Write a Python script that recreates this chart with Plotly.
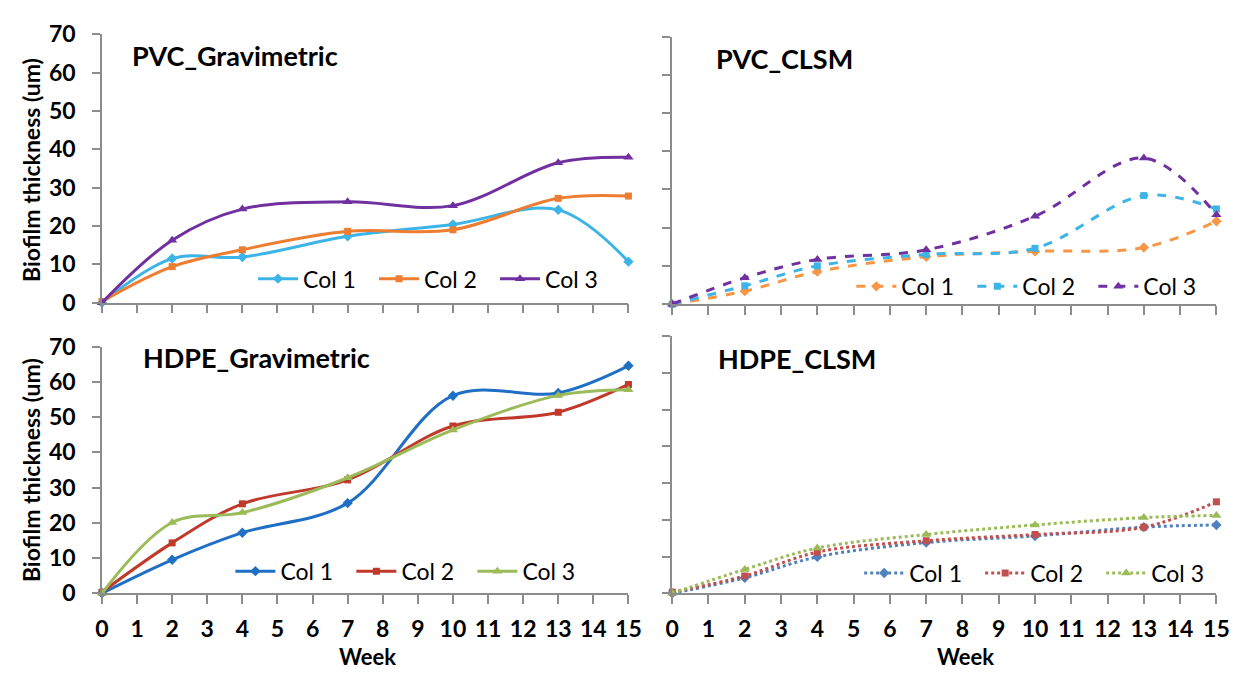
import plotly.graph_objects as go

weeks = [0, 2, 4, 7, 10, 13, 15]

pvc_grav_col1 = [0, 11.5, 11.9, 17.3, 20.4, 24.2, 10.7]
pvc_grav_col2 = [0.3, 9.4, 13.8, 18.6, 19.0, 27.2, 27.8]
pvc_grav_col3 = [0, 16.3, 24.4, 26.3, 25.3, 36.5, 37.9]

pvc_clsm_col1 = [0, 3.4, 8.5, 12.4, 13.8, 14.8, 21.7]
pvc_clsm_col2 = [0, 4.8, 10.0, 13.0, 14.6, 28.4, 24.9]
pvc_clsm_col3 = [0, 6.9, 11.7, 14.2, 23.0, 38.2, 23.4]

hdpe_grav_col1 = [0, 9.5, 17.2, 25.6, 56.1, 56.9, 64.6]
hdpe_grav_col2 = [0.3, 14.3, 25.4, 32.2, 47.5, 51.4, 59.3]
hdpe_grav_col3 = [0, 20.1, 22.9, 32.8, 46.4, 56.2, 57.8]

hdpe_clsm_col1 = [0, 4.2, 9.9, 13.8, 15.6, 18.0, 18.6]
hdpe_clsm_col2 = [0.3, 4.7, 11.2, 14.3, 16.0, 18.0, 24.9]
hdpe_clsm_col3 = [0, 6.5, 12.3, 16.0, 18.6, 20.6, 21.2]

series_names = ["Col 1", "Col 2", "Col 3"]
x_ticks = list(range(0, 16))
y_ticks = list(range(0, 71, 10))

FONT = "Lato"
AXIS_GRAY = "#8C8C8C"

fig = go.Figure()

panels = [
    ([pvc_grav_col1, pvc_grav_col2, pvc_grav_col3], ["#3CB4E7", "#ED7D31", "#7030A0"], "solid", "x", "y", "legend"),
    ([pvc_clsm_col1, pvc_clsm_col2, pvc_clsm_col3], ["#F79646", "#3CB4E7", "#7030A0"], "dash", "x2", "y2", "legend2"),
    ([hdpe_grav_col1, hdpe_grav_col2, hdpe_grav_col3], ["#1F6FC5", "#C0392B", "#9BBB59"], "solid", "x3", "y3", "legend3"),
    ([hdpe_clsm_col1, hdpe_clsm_col2, hdpe_clsm_col3], ["#4F81BD", "#C0504D", "#9BBB59"], "dot", "x4", "y4", "legend4"),
]
symbols = ["diamond", "square", "triangle-up"]
msizes = [8, 7, 9]

for data, colors, dash, xa, ya, lg in panels:
    for i in range(3):
        fig.add_trace(go.Scatter(
            x=weeks, y=data[i], name=series_names[i],
            mode="lines+markers",
            line=dict(color=colors[i], width=3, dash=dash, shape="spline", smoothing=1.0),
            marker=dict(symbol=symbols[i], size=msizes[i], color=colors[i]),
            xaxis=xa, yaxis=ya, legend=lg, cliponaxis=False,
        ))

W, H = 1254, 682
def px_x(v):
    return v / W
def px_y(v):
    return 1 - v / H

left_dom = [px_x(96.5), px_x(631.5)]
right_dom = [px_x(676), px_x(1229)]
tl_dom = [px_y(300), px_y(20)]
tr_dom = [px_y(301.5), px_y(22.5)]
bl_dom = [px_y(603), px_y(346)]
br_dom = [px_y(603), px_y(335)]

TICKFONT = dict(family=FONT, size=23, color="black", weight="bold")

def xaxis(dom, anchor, show_labels):
    return dict(domain=dom, anchor=anchor, range=[0, 15], tickvals=x_ticks,
                showticklabels=show_labels, ticks="outside", ticklen=9, tickcolor=AXIS_GRAY, tickwidth=1.5,
                showline=True, linecolor=AXIS_GRAY, linewidth=1.5, showgrid=False, zeroline=False,
                tickfont=TICKFONT, ticklabelstandoff=5)

def yaxis(dom, anchor, show_labels):
    return dict(domain=dom, anchor=anchor, range=[0, 70], tickvals=y_ticks,
                showticklabels=show_labels, ticks="outside", ticklen=8, tickcolor=AXIS_GRAY, tickwidth=1.5,
                showline=True, linecolor=AXIS_GRAY, linewidth=1.5, showgrid=False, zeroline=False,
                tickfont=TICKFONT, ticklabelstandoff=12)

legend_common = dict(orientation="h", bgcolor="rgba(0,0,0,0)", xanchor="left", yanchor="middle",
                     font=dict(family=FONT, size=23, color="black"), itemwidth=40,
                     entrywidth=66, entrywidthmode="pixels", tracegroupgap=0)

fig.update_layout(
    width=W, height=H,
    margin=dict(l=0, r=0, t=0, b=0),
    paper_bgcolor="white", plot_bgcolor="white",
    xaxis=xaxis(left_dom, "y", False),
    yaxis=yaxis(tl_dom, "x", True),
    xaxis2=xaxis(right_dom, "y2", False),
    yaxis2=yaxis(tr_dom, "x2", False),
    xaxis3=xaxis(left_dom, "y3", True),
    yaxis3=yaxis(bl_dom, "x3", True),
    xaxis4=xaxis(right_dom, "y4", True),
    yaxis4=yaxis(br_dom, "x4", False),
    legend=dict(legend_common, x=px_x(250), y=px_y(275)),
    legend2=dict(legend_common, x=px_x(858), y=px_y(283)),
    legend3=dict(legend_common, x=px_x(227), y=px_y(580)),
    legend4=dict(legend_common, x=px_x(866), y=px_y(582)),
    showlegend=True,
)

titles = [("PVC_Gravimetric", 125, 42), ("PVC_CLSM", 718, 45),
          ("HDPE_Gravimetric", 136, 357), ("HDPE_CLSM", 720, 358)]
for text, xp, yp in titles:
    fig.add_annotation(text=text, x=px_x(xp), y=px_y(yp), xref="paper", yref="paper",
                       xanchor="left", yanchor="middle", showarrow=False,
                       font=dict(family=FONT, size=27, color="black", weight="bold"))

for yc in [162, 475]:
    fig.add_annotation(text="Biofilm thickness (um)", x=px_x(25), y=px_y(yc), xref="paper", yref="paper",
                       xanchor="center", yanchor="middle", showarrow=False, textangle=-90,
                       font=dict(family=FONT, size=23, color="black", weight="bold"))

for xc in [366, 974]:
    fig.add_annotation(text="Week", x=px_x(xc), y=px_y(669), xref="paper", yref="paper",
                       xanchor="center", yanchor="middle", showarrow=False,
                       font=dict(family=FONT, size=22, color="black", weight="bold"))

fig.write_html("out.html")
